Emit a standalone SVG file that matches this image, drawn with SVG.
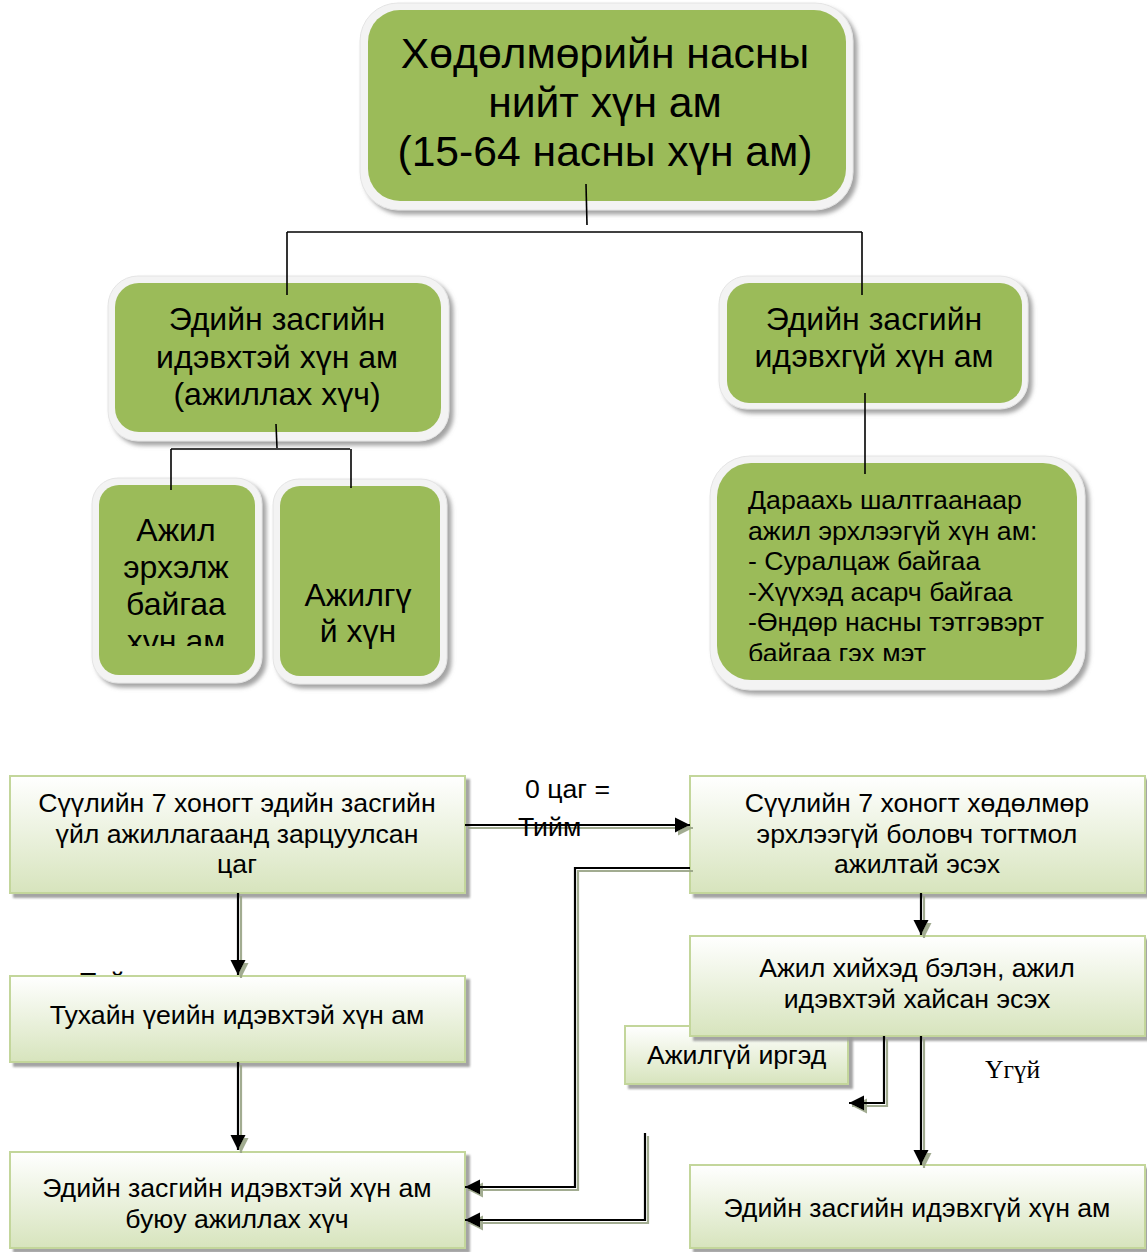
<svg xmlns="http://www.w3.org/2000/svg" width="1147" height="1252" viewBox="0 0 1147 1252">
<defs>
<style>
.t{font-family:"Liberation Sans",Arial,sans-serif;fill:#000}
.band{fill:#f3f3f3;stroke:#e4e4e4;stroke-width:1}
.grn{fill:#9bbb59}
.rb{fill:url(#g);stroke:#c3d69b;stroke-width:2}
.tl{fill:none;stroke:#000;stroke-width:1.6}
.bl{fill:none;stroke:#000;stroke-width:2.2}
.s{font-size:26.67px}
.m{font-size:32px}
</style>
<linearGradient id="g" x1="0" y1="0" x2="0" y2="1">
<stop offset="0" stop-color="#ffffff"/>
<stop offset="1" stop-color="#d7e4bd"/>
</linearGradient>
<filter id="sh" x="-10%" y="-10%" width="130%" height="130%">
<feDropShadow dx="4" dy="4" stdDeviation="2" flood-color="#8c8c8c" flood-opacity="0.8"/>
</filter>
<filter id="sh2" x="-10%" y="-10%" width="130%" height="130%">
<feDropShadow dx="4" dy="4" stdDeviation="0.8" flood-color="#9a9a9a" flood-opacity="0.9"/>
</filter>
<filter id="lsh" x="-20%" y="-20%" width="140%" height="140%">
<feDropShadow dx="3" dy="3" stdDeviation="0.5" flood-color="#98a385" flood-opacity="0.9"/>
</filter>
<marker id="ar" markerWidth="16" markerHeight="16" refX="15" refY="8" orient="auto" markerUnits="userSpaceOnUse">
<path d="M0,0.5 L15,8 L0,15.5 Z" fill="#000"/>
</marker>
<clipPath id="c1"><rect x="95" y="480" width="165" height="166"/></clipPath>
<clipPath id="c2"><rect x="715" y="460" width="365" height="201"/></clipPath>
</defs>

<rect width="1147" height="1252" fill="#fff"/>

<!-- partially hidden label behind box C -->
<text class="t s" x="80" y="991">Тийм</text>

<g id="n-top">
<rect class="band" x="360" y="3" width="493" height="207" rx="38" filter="url(#sh)"/>
<rect class="grn" x="368" y="10" width="478" height="191" rx="32"/>
<text class="t" font-size="42.67" text-anchor="middle"><tspan x="605" y="68">Хөдөлмөрийн насны</tspan><tspan x="605" y="117">нийт хүн ам</tspan><tspan x="605" y="166">(15-64 насны хүн ам)</tspan></text>
</g>

<g id="n-active">
<rect class="band" x="108" y="276" width="341" height="165" rx="30" filter="url(#sh)"/>
<rect class="grn" x="115" y="283" width="326" height="149" rx="24"/>
<text class="t m" text-anchor="middle"><tspan x="277" y="330">Эдийн засгийн</tspan><tspan x="277" y="368">идэвхтэй хүн ам</tspan><tspan x="277" y="405">(ажиллах хүч)</tspan></text>
</g>

<g id="n-inactive">
<rect class="band" x="719" y="276" width="309" height="133" rx="28" filter="url(#sh)"/>
<rect class="grn" x="727" y="283" width="295" height="120" rx="22"/>
<text class="t m" text-anchor="middle"><tspan x="874" y="330">Эдийн засгийн</tspan><tspan x="874" y="367">идэвхгүй хүн ам</tspan></text>
</g>

<g id="n-employed">
<rect class="band" x="92" y="478" width="170" height="205" rx="26" filter="url(#sh)"/>
<rect class="grn" x="99" y="485" width="156" height="190" rx="20"/>
<g clip-path="url(#c1)">
<text class="t m" text-anchor="middle"><tspan x="176" y="541">Ажил</tspan><tspan x="176" y="578">эрхэлж</tspan><tspan x="176" y="615">байгаа</tspan><tspan x="176" y="652">хүн ам</tspan></text>
</g>
</g>

<g id="n-unemployed">
<rect class="band" x="273" y="479" width="174" height="205" rx="26" filter="url(#sh)"/>
<rect class="grn" x="280" y="486" width="160" height="190" rx="20"/>
<text class="t m" text-anchor="middle"><tspan x="358" y="606">Ажилгү</tspan><tspan x="358" y="642">й хүн</tspan></text>
</g>

<g id="n-reasons">
<rect class="band" x="710" y="456" width="375" height="234" rx="40" filter="url(#sh)"/>
<rect class="grn" x="717" y="463" width="360" height="217" rx="34"/>
<g clip-path="url(#c2)">
<text class="t s"><tspan x="748" y="509">Дараахь шалтгаанаар</tspan><tspan x="748" y="540">ажил эрхлээгүй хүн ам:</tspan><tspan x="748" y="570">- Суралцаж байгаа</tspan><tspan x="748" y="601">-Хүүхэд асарч байгаа</tspan><tspan x="748" y="631">-Өндөр насны тэтгэвэрт</tspan><tspan x="748" y="662">байгаа гэх мэт</tspan></text>
</g>
</g>

<g id="tree-connectors">
<path class="tl" d="M586 184 L587 225"/>
<path class="tl" d="M287 232 H862"/>
<path class="tl" d="M287 232 V295"/>
<path class="tl" d="M862 232 V295"/>
<path class="tl" d="M276 424 L277 448"/>
<path class="tl" d="M171 449 H350"/>
<path class="tl" d="M171 449 V490"/>
<path class="tl" d="M351 449 V488"/>
<path class="tl" d="M865 393 V474"/>
</g>

<g id="n-hours">
<rect class="rb" x="10" y="776" width="455" height="117" filter="url(#sh2)"/>
<text class="t s" text-anchor="middle"><tspan x="237" y="812">Сүүлийн 7 хоногт эдийн засгийн</tspan><tspan x="237" y="843">үйл ажиллагаанд зарцуулсан</tspan><tspan x="237" y="873">цаг</tspan></text>
</g>

<g id="n-temp">
<rect class="rb" x="690" y="776" width="455" height="117" filter="url(#sh2)"/>
<text class="t s" text-anchor="middle"><tspan x="917" y="812">Сүүлийн 7 хоногт хөдөлмөр</tspan><tspan x="917" y="843">эрхлээгүй боловч тогтмол</tspan><tspan x="917" y="873">ажилтай эсэх</tspan></text>
</g>

<g id="n-current">
<rect class="rb" x="10" y="976" width="455" height="86" filter="url(#sh2)"/>
<text class="t s" text-anchor="middle" x="237" y="1024">Тухайн үеийн идэвхтэй хүн ам</text>
</g>

<g id="n-labor">
<rect class="rb" x="10" y="1152" width="455" height="96" filter="url(#sh2)"/>
<text class="t s" text-anchor="middle"><tspan x="237" y="1197">Эдийн засгийн идэвхтэй хүн ам</tspan><tspan x="237" y="1228">буюу ажиллах хүч</tspan></text>
</g>

<g id="n-unemp-citizens">
<rect class="rb" x="625" y="1026" width="223" height="58" filter="url(#sh2)"/>
<text class="t s" x="647" y="1064">Ажилгүй иргэд</text>
</g>

<g id="n-seeking">
<rect class="rb" x="690" y="936" width="455" height="100" filter="url(#sh2)"/>
<text class="t s" text-anchor="middle"><tspan x="917" y="977">Ажил хийхэд бэлэн, ажил</tspan><tspan x="917" y="1008">идэвхтэй хайсан эсэх</tspan></text>
</g>

<g id="n-econ-inactive">
<rect class="rb" x="690" y="1165" width="455" height="83" filter="url(#sh2)"/>
<text class="t s" text-anchor="middle" x="917" y="1217">Эдийн засгийн идэвхгүй хүн ам</text>
</g>

<g id="flow-connectors" filter="url(#lsh)">
<path class="bl" d="M465 825 H690" marker-end="url(#ar)"/>
<path class="bl" d="M238 893 V975" marker-end="url(#ar)"/>
<path class="bl" d="M238 1062 V1150" marker-end="url(#ar)"/>
<path class="bl" d="M690 868 H575 V1187 H465" marker-end="url(#ar)"/>
<path class="bl" d="M645 1133 V1220 H465" marker-end="url(#ar)"/>
<path class="bl" d="M921 893 V935" marker-end="url(#ar)"/>
<path class="bl" d="M884 1036 V1103 H849" marker-end="url(#ar)"/>
<path class="bl" d="M921 1036 V1165" marker-end="url(#ar)"/>
</g>

<g id="labels">
<text class="t s" x="525" y="798">0 цаг =</text>
<text class="t s" x="518" y="836">Тийм</text>
<text x="985" y="1078" font-size="25.5" style="font-family:'Liberation Serif','Times New Roman',serif">Үгүй</text>
</g>
</svg>
